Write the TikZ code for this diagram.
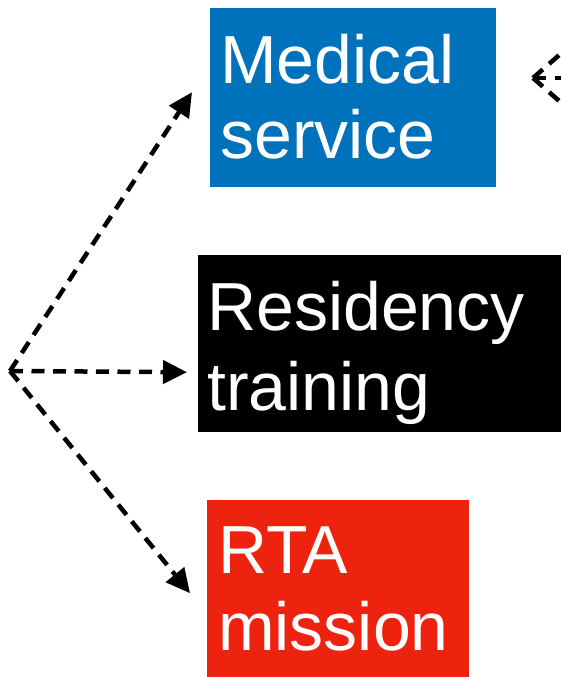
\documentclass[tikz,border=0pt]{standalone}
\usepackage{fontspec}
\setmainfont{Liberation Sans}
\usetikzlibrary{arrows.meta}
\definecolor{medblue}{RGB}{0,114,188}
\definecolor{rtared}{RGB}{237,34,15}
\begin{document}
\begin{tikzpicture}[x=1pt,y=-1pt,
  box/.style={draw=none, inner sep=0pt, anchor=north west},
  lbl/.style={text=white, align=left, inner sep=0pt, anchor=north west,
    font=\fontsize{68}{#1}\selectfont},
  conn/.style={draw=black, line width=4.5pt, dash pattern=on 13pt off 8.5pt,
    -{Triangle[length=24pt,width=23pt]}},
  fan/.style={draw=black, line width=4.5pt, dash pattern=on 13pt off 8.5pt}]
\useasboundingbox (0,0) rectangle (561,677);
% boxes
\node[box, fill=medblue, minimum width=286pt, minimum height=179pt] (med) at (210,8) {};
\node[box, fill=black, minimum width=380pt, minimum height=177pt] (res) at (198,255) {};
\node[box, fill=rtared, minimum width=262pt, minimum height=190pt] (rta) at (207,500) {};
% labels
\node[lbl=75] (medt) at (220,34) {Medical\\service};
\node[lbl=80] (rest) at (207,281) {Residency\\training};
\node[lbl=77] (rtat) at (218,527) {RTA\\mission};
% left fan
\coordinate (o) at (10,371);
\draw[conn] (o) -- ([xshift=-18pt,yshift=5.5pt]med.west);
\draw[conn] (o) -- ([xshift=-11pt,yshift=-28.5pt]res.west);
\draw[conn] (o) -- ([xshift=-17pt,yshift=2pt]rta.west);
% right fan (cut off)
\coordinate (f) at (533,78);
\coordinate (fa) at (590,28);
\coordinate (fb) at (590,78);
\coordinate (fc) at (590,128);
\draw[fan] (f) -- (fa);
\draw[fan] (f) -- (fb);
\draw[fan] (f) -- (fc);
\end{tikzpicture}
\end{document}
